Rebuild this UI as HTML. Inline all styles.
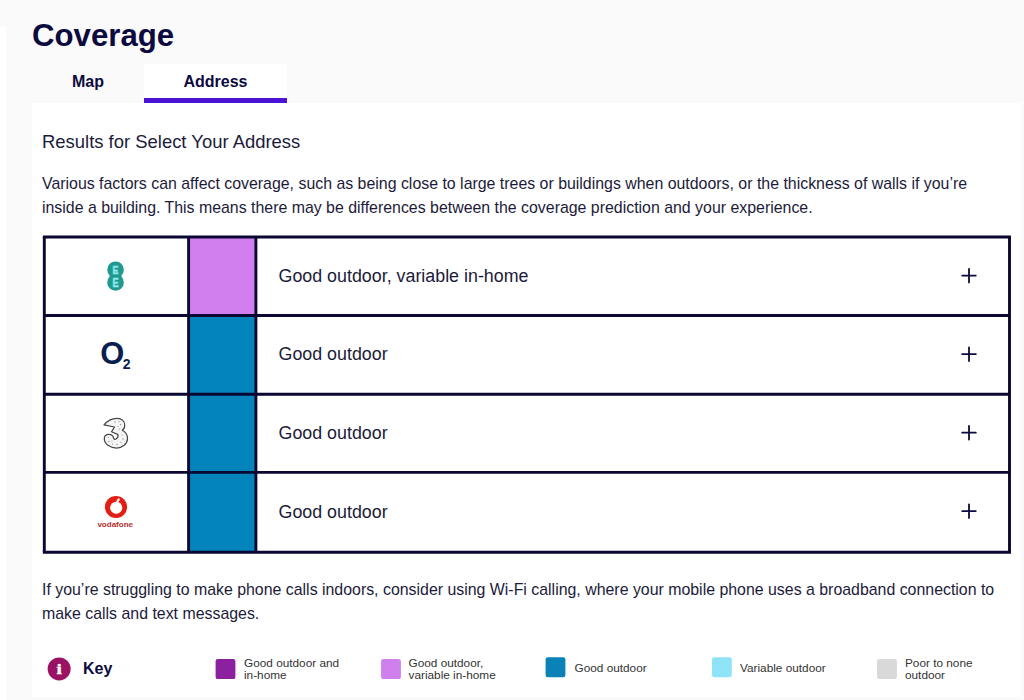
<!DOCTYPE html>
<html lang="en">
<head>
<meta charset="utf-8">
<title>Coverage</title>
<style>
html,body{margin:0;padding:0;}
body{width:1024px;height:700px;overflow:hidden;background:#fafafa;position:relative;font-family:"Liberation Sans",Arial,sans-serif;color:#1c1b3a;}
.abs{position:absolute;}
.strip-l{left:0;top:26px;width:6px;height:674px;background:#fff;}
.panel{left:32px;top:103px;width:989px;height:594px;background:#fff;}
h1{position:absolute;margin:0;left:32px;top:17.5px;font-size:31.2px;line-height:36px;font-weight:bold;color:#0c0a3e;white-space:nowrap;}
.tab{position:absolute;top:64px;height:39px;font-size:16px;font-weight:bold;color:#0c0a3e;line-height:35px;text-align:center;box-sizing:border-box;}
.tab.map{left:32px;width:112px;}
.tab.addr{left:144px;width:143px;background:#fff;border-bottom:5px solid #4c12d6;}
.h2{left:42px;top:130.3px;font-size:18.45px;line-height:24px;white-space:nowrap;color:#1c1b3a;}
.p{left:42px;font-size:15.9px;line-height:24px;white-space:nowrap;color:#1c1b3a;}
.line{position:absolute;background:#0a0733;}
.cell-text{position:absolute;left:278.5px;font-size:17.85px;line-height:24px;white-space:nowrap;color:#1c1b3a;}
.plus{position:absolute;left:961px;width:15px;height:15px;}
.plus:before{content:"";position:absolute;left:0;top:6.5px;width:15px;height:2px;background:#0c0a3e;}
.plus:after{content:"";position:absolute;top:0;left:6.5px;height:15px;width:2px;background:#0c0a3e;}
.sw{position:absolute;top:658px;width:20px;height:20px;border-radius:2px;}
.kt{position:absolute;font-size:11.8px;line-height:12px;color:#333;white-space:nowrap;}
</style>
</head>
<body>
<div class="abs strip-l"></div>
<div class="abs panel"></div>
<h1>Coverage</h1>
<div class="tab map">Map</div>
<div class="tab addr">Address</div>

<div class="abs h2">Results for Select Your Address</div>
<div class="abs p" style="top:172px">Various factors can affect coverage, such as being close to large trees or buildings when outdoors, or the thickness of walls if you’re</div>
<div class="abs p" style="top:196px">inside a building. This means there may be differences between the coverage prediction and your experience.</div>

<!-- table -->
<svg class="abs" style="left:0;top:220px" width="1024" height="350" viewBox="0 220 1024 350">
  <rect x="188.6" y="237" width="67.3" height="78.5" fill="#d17fee"/>
  <rect x="188.6" y="315.5" width="67.3" height="236.8" fill="#0384ba"/>
  <g stroke="#0a0733" stroke-width="2.9" fill="none">
    <path d="M42.85,237H1010.95 M44.3,315.5H1009.5 M44.3,394.3H1009.5 M44.3,472.4H1009.5 M42.85,552.3H1010.95"/>
    <path d="M44.3,237V552.3 M188.6,237V552.3 M255.9,237V552.3 M1009.5,237V552.3"/>
  </g>
  <g stroke="#0c0a3e" stroke-width="1.8" stroke-linecap="round" fill="none">
    <path d="M962.2,275.6h13.6M969,268.8v13.6"/>
    <path d="M962.2,354.2h13.6M969,347.4v13.6"/>
    <path d="M962.2,432.7h13.6M969,425.9v13.6"/>
    <path d="M962.2,511.1h13.6M969,504.3v13.6"/>
  </g>
</svg>

<div class="cell-text" style="top:263.5px">Good outdoor, variable in-home</div>
<div class="cell-text" style="top:341.5px">Good outdoor</div>
<div class="cell-text" style="top:420.7px">Good outdoor</div>
<div class="cell-text" style="top:500px">Good outdoor</div>

<div class="abs p" style="top:578px">If you’re struggling to make phone calls indoors, consider using Wi-Fi calling, where your mobile phone uses a broadband connection to</div>
<div class="abs p" style="top:602px">make calls and text messages.</div>

<!-- logos -->
<svg class="abs" style="left:100px;top:256px" width="32" height="40" viewBox="100 256 32 40">
  <circle cx="115.55" cy="269.7" r="8.3" fill="#1f9a93"/>
  <circle cx="115.55" cy="282.4" r="8.3" fill="#1f9a93"/>
  <ellipse cx="115.55" cy="276.05" rx="6" ry="3" fill="#1f9a93"/>
  <g font-family="Liberation Sans, sans-serif" font-weight="bold" fill="#93e8e6" stroke="#93e8e6" stroke-width=".4" text-anchor="middle">
    <text transform="translate(115.6,273.7) scale(.8,1)" font-size="11.2">E</text>
    <text transform="translate(115.6,287.3) scale(.8,1.08)" font-size="11.6">E</text>
  </g>
</svg>
<svg class="abs" style="left:95px;top:335px" width="45" height="40" viewBox="95 335 45 40">
  <g font-family="Liberation Sans, sans-serif" font-weight="bold" fill="#0a1e4f">
    <text transform="translate(100.3,363.8) scale(1.03,1.07)" font-size="30">O</text>
    <text x="122.8" y="368.6" font-size="14">2</text>
  </g>
</svg>
<svg class="abs" style="left:100px;top:414px" width="32" height="38" viewBox="-4 -4 32 38">
  <path d="M0,6.9 C2.5,3.6 7.5,0.5 13.2,0.3 C17.5,0.2 20.7,3 20.7,7.2 C20.7,9.6 19.8,11.4 18.3,12.3 C21.5,14 23.6,17.2 23.5,20.5 C23.4,26 18.5,30 12.6,30 C6,30 0.3,26 0.3,20.8 C0.3,18 2.2,16.4 5,16.4 C7.6,16.4 9,17.8 9.4,19.6 C9.8,21.6 11.6,21.8 12.8,20.4 C14,19 14.4,17.4 13.6,16.4 L7.5,13.8 L10.5,9 Z" fill="#f5f5f5" stroke="#484848" stroke-width="1.25" stroke-linejoin="round"/>
  <g fill="#8c8c8c">
    <circle cx="11" cy="4" r=".7"/><circle cx="15" cy="3.6" r=".6"/><circle cx="16.5" cy="6.5" r=".7"/><circle cx="14" cy="8.5" r=".6"/>
    <circle cx="15.5" cy="11" r=".6"/><circle cx="18" cy="17" r=".6"/><circle cx="19" cy="21" r=".7"/><circle cx="17" cy="24.5" r=".6"/>
    <circle cx="13" cy="26.5" r=".7"/><circle cx="8.5" cy="26" r=".6"/><circle cx="5" cy="23.5" r=".7"/><circle cx="4.5" cy="19.5" r=".6"/><circle cx="8" cy="23" r=".5"/>
  </g>
</svg>
<svg class="abs" style="left:96px;top:490px" width="40" height="42" viewBox="96 490 40 42">
  <circle cx="116" cy="507" r="11.1" fill="#e31e12"/>
  <circle cx="116.2" cy="507.8" r="6.1" fill="#fff"/>
  <path d="M116.2,502.6 C116.2,500.4 117.4,498.6 119.2,497.9 L119.8,500.2 C118.8,500.7 118.2,501.8 118.4,503 Z" fill="#fff"/>
  <text x="115.2" y="526.9" text-anchor="middle" font-family="Liberation Sans, sans-serif" font-weight="bold" font-size="8" fill="#b3302e">vodafone</text>
</svg>

<!-- key -->
<svg class="abs" style="left:44px;top:654px" width="30" height="30" viewBox="44 654 30 30">
  <circle cx="59.15" cy="668.95" r="11.5" fill="#9a1263"/>
  <text transform="translate(59.2,674.1) scale(1.25,1)" text-anchor="middle" font-family="Liberation Serif, serif" font-weight="bold" font-size="15.5" fill="#fff" stroke="#fff" stroke-width=".35">i</text>
</svg>
<div class="abs" style="left:83px;top:657px;font-size:16px;font-weight:bold;line-height:24px;color:#0c0a3e">Key</div>
<svg class="abs" style="left:200px;top:650px" width="720" height="40" viewBox="200 650 720 40">
  <rect x="215.6" y="659" width="19.8" height="20.1" rx="2.2" fill="#8b219f"/>
  <rect x="381.1" y="659" width="19.8" height="20.1" rx="2.2" fill="#cf80ec"/>
  <rect x="545.6" y="657.3" width="19.8" height="19.9" rx="2.2" fill="#0a82b8"/>
  <rect x="712" y="657.3" width="19.8" height="19.9" rx="2.2" fill="#8fe3f7"/>
  <rect x="877" y="659" width="19.9" height="20" rx="2.2" fill="#d9d9d9"/>
</svg>
<div class="kt" style="left:244px;top:656.6px">Good outdoor and<br>in-home</div>
<div class="kt" style="left:408.5px;top:656.6px">Good outdoor,<br>variable in-home</div>
<div class="kt" style="left:574.5px;top:661.6px">Good outdoor</div>
<div class="kt" style="left:740px;top:661.6px">Variable outdoor</div>
<div class="kt" style="left:905px;top:656.6px">Poor to none<br>outdoor</div>

</body>
</html>
